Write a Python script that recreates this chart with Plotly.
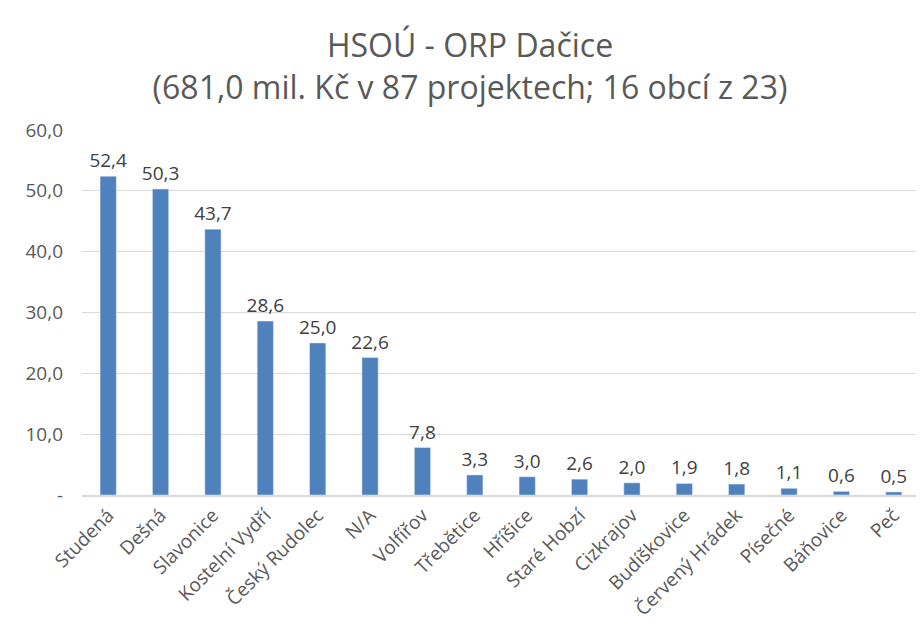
import plotly.graph_objects as go

categories = ["Studená", "Dešná", "Slavonice", "Kostelní Vydří", "Český Rudolec", "N/A",
              "Volfířov", "Třebětice", "Hříšice", "Staré Hobzí", "Cizkrajov", "Budíškovice",
              "Červený Hrádek", "Písečné", "Báňovice", "Peč"]
values = [52.4, 50.3, 43.7, 28.6, 25.0, 22.6, 7.8, 3.3, 3.0, 2.6, 2.0, 1.9, 1.8, 1.1, 0.6, 0.5]
tick_vals = [0, 10, 20, 30, 40, 50, 60]
tick_text = ["-", "10,0", "20,0", "30,0", "40,0", "50,0", "60,0"]

FONT = "Open Sans"
GREY = "#595959"

fig = go.Figure(go.Bar(
    x=categories, y=values,
    marker=dict(color="#4F81BD"),
    text=[f"{v:.1f}".replace(".", ",") for v in values],
    textposition="outside",
    constraintext="none",
    textfont=dict(family=FONT, size=19, color="#404040"),
    cliponaxis=False,
))

fig.update_layout(
    width=924, height=634,
    paper_bgcolor="white", plot_bgcolor="white",
    margin=dict(l=74, r=12, t=122, b=147),
    bargap=0.69,
    showlegend=False,
    title=dict(text="HSOÚ - ORP Dačice<br>(681,0 mil. Kč v 87 projektech; 16 obcí z 23)",
               x=0.5, xanchor="center", y=0.922, yanchor="middle",
               font=dict(family=FONT, size=32, color=GREY)),
    xaxis=dict(tickangle=-45, tickfont=dict(family=FONT, size=19, color=GREY),
               showline=True, linecolor="#D9D9D9", linewidth=1.5, ticks="",
               automargin=False),
    yaxis=dict(range=[0, 60], tickvals=tick_vals, ticktext=tick_text,
               tickfont=dict(family=FONT, size=19, color=GREY),
               showgrid=True, gridcolor="#D9D9D9", gridwidth=1, zeroline=False,
               ticklabelstandoff=18, automargin=False),
)

fig.write_html("out.html")
